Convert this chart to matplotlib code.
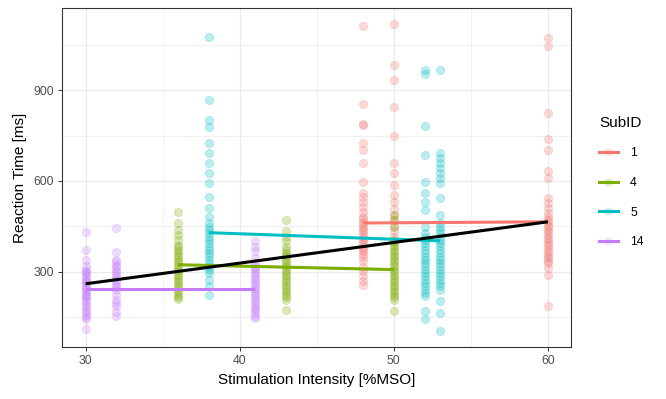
import matplotlib
matplotlib.use("Agg")
import matplotlib.pyplot as plt
import numpy as np
from matplotlib.lines import Line2D

plt.rcParams["font.family"] = ["Liberation Sans", "DejaVu Sans"]

# reaction times per subject and stimulation intensity (%MSO)
rt_s14_30 = [430, 372, 340, 318, 307, 298, 290, 282, 274, 265, 257, 249, 241, 232, 224,
             216, 208, 199, 191, 183, 175, 166, 158, 150, 142, 112, 300, 270, 245, 220]
rt_s14_32 = [445, 366, 340, 332, 323, 315, 307, 298, 290, 282, 274, 265, 257, 249, 241,
             224, 208, 196, 185, 168, 152]
rt_s14_41 = [400, 383, 367, 345, 329, 320, 312, 304, 296, 288, 279, 271, 263, 255, 246,
             238, 230, 222, 213, 205, 197, 188, 180, 172, 164, 155, 147]

rt_s4_36 = [499, 460, 438, 422, 406, 389, 381, 373, 365, 356, 348, 340, 332, 323, 315,
            307, 298, 290, 282, 274, 265, 257, 249, 241, 232, 224, 216, 210]
rt_s4_43 = [471, 433, 416, 400, 383, 372, 362, 356, 348, 340, 332, 323, 315, 307, 298,
            290, 282, 274, 265, 257, 249, 241, 232, 224, 216, 208, 175]
rt_s4_50 = [488, 471, 449, 405, 397, 389, 381, 373, 365, 356, 348, 340, 332, 323, 315,
            307, 298, 290, 282, 274, 265, 257, 249, 241, 232, 224, 216, 208, 169]

rt_s5_38 = [1076, 867, 801, 779, 724, 691, 658, 625, 592, 548, 510, 482, 460, 449, 438,
            427, 416, 405, 394, 383, 372, 362, 351, 340, 329, 317, 306, 296, 274, 252, 222]
rt_s5_52 = [966, 955, 781, 686, 598, 559, 532, 504, 449, 427, 416, 405, 395, 384, 373,
            362, 350, 340, 329, 318, 307, 296, 285, 274, 263, 252, 241, 230, 219, 169, 142]
rt_s5_53 = [966, 691, 675, 658, 642, 625, 609, 592, 543, 488, 460, 449, 438, 427, 416,
            405, 395, 384, 373, 362, 350, 340, 329, 318, 307, 296, 285, 274, 263, 252,
            241, 202, 164, 103]

rt_s1_48 = [1112, 856, 790, 784, 724, 702, 658, 598, 559, 548, 532, 515, 499, 482, 474,
            466, 457, 449, 441, 433, 424, 416, 408, 400, 391, 383, 375, 367, 358, 350,
            334, 317, 301, 285, 268, 257]
rt_s1_50 = [1120, 982, 933, 845, 748, 658, 627, 587, 554, 532, 507, 488, 471, 452, 433,
            416, 400]
rt_s1_60 = [1073, 1045, 825, 740, 702, 634, 609, 544, 527, 510, 493, 481, 472, 464, 455,
            447, 438, 430, 421, 413, 405, 396, 388, 379, 370, 362, 353, 345, 336, 328,
            311, 288, 186]

sub_ids = ["1", "4", "5", "14"]
sub_colors = ["#F8766D", "#7CAE00", "#00BFC4", "#C77CFF"]
sub_data = {
    "1": {48: rt_s1_48, 50: rt_s1_50, 60: rt_s1_60},
    "4": {36: rt_s4_36, 43: rt_s4_43, 50: rt_s4_50},
    "5": {38: rt_s5_38, 52: rt_s5_52, 53: rt_s5_53},
    "14": {30: rt_s14_30, 32: rt_s14_32, 41: rt_s14_41},
}

# linear fit values at the ends of each subject's range
fit_start = [461, 323, 429, 244]
fit_end = [465, 307, 402, 244]
overall_x = [30, 60]
overall_fit = [260, 465]

fig = plt.figure(figsize=(6.66, 3.99), dpi=100)
ax = fig.add_axes([62.5 / 666, 1 - 347 / 399, (571 - 62.5) / 666, (347 - 8) / 399])

for sid, col in zip(sub_ids, sub_colors):
    for x, rts in sub_data[sid].items():
        ax.scatter(np.full(len(rts), x), rts, s=34, color=col, alpha=0.27,
                   linewidths=0.6, zorder=2)

handles = []
for sid, col, y0, y1 in zip(sub_ids, sub_colors, fit_start, fit_end):
    xs = list(sub_data[sid].keys())
    ax.plot([min(xs), max(xs)], [y0, y1], color=col, lw=2.2, zorder=3,
            solid_capstyle="butt")
    handles.append(Line2D([], [], color=col, lw=2.2, marker="o", markersize=5,
                          markerfacecolor=matplotlib.colors.to_rgba(col, 0.15),
                          markeredgecolor=matplotlib.colors.to_rgba(col, 0.15)))

ax.plot(overall_x, overall_fit, color="black", lw=2.2, zorder=4, solid_capstyle="butt")

ax.set_xlim(28.5, 61.5)
ax.set_ylim(51, 1172)
ax.set_xticks([30, 40, 50, 60])
ax.set_yticks([300, 600, 900])
ax.set_xticks([35, 45, 55], minor=True)
ax.set_yticks([150, 450, 750, 1050], minor=True)
ax.grid(which="major", color="#EBEBEB", lw=0.9, zorder=0)
ax.grid(which="minor", color="#EBEBEB", lw=0.5, zorder=0)
ax.set_axisbelow(True)
ax.tick_params(which="major", length=3, width=0.7, color="#333333", labelsize=8.8,
               labelcolor="#4D4D4D", pad=3)
ax.tick_params(which="minor", length=0)
for sp in ax.spines.values():
    sp.set_color("#333333")
    sp.set_linewidth(0.8)

ax.set_xlabel("Stimulation Intensity [%MSO]", fontsize=11, labelpad=4)
ax.set_ylabel("Reaction Time [ms]", fontsize=11, labelpad=5)

leg = fig.legend(handles, sub_ids, title="SubID", loc="center left",
                 bbox_to_anchor=(588 / 666, 1 - 182 / 399), frameon=False,
                 fontsize=8.8, title_fontsize=11, handlelength=1.55,
                 labelspacing=1.45, handletextpad=1.0)
leg._legend_box.align = "left"

fig.savefig("out.png", dpi=100)
